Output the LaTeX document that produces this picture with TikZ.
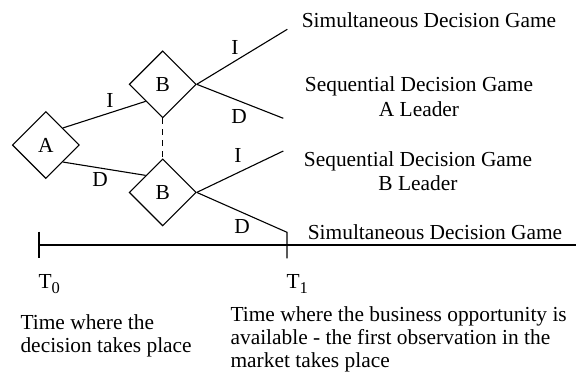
\documentclass[tikz,border=0pt]{standalone}
\usepackage{fontspec}
\setmainfont{Liberation Serif}
\usetikzlibrary{shapes.geometric, positioning}
\newcommand{\tsub}[1]{\raisebox{-5pt}{\fontsize{16.5}{16.5}\selectfont #1}}

\begin{document}
\begin{tikzpicture}[
    x=1pt, y=-1pt, line width=1.1pt, node distance=40pt,
    every node/.style={font=\fontsize{21.4}{23}\selectfont, inner sep=0pt},
    player/.style={diamond, draw, aspect=1, minimum size=67pt},
    game/.style={align=center, anchor=base, font=\fontsize{21.4}{24.7}\selectfont},
    note/.style={align=left, anchor=base west}
]
    \useasboundingbox (0,0) rectangle (576,376);

    % decision nodes
    \node[player] (A) at (45.8,145) {A};
    \node[player] (Bt) at (162.7,84.3) {B};
    \node[player] (Bb) [below=of Bt] {B};

    % free ends and time axis
    \coordinate (ti) at (287.3,29.3);
    \coordinate (td) at (283.3,118.3);
    \coordinate (bi) at (283.3,151);
    \coordinate (t1top) at (287,232.3);
    \coordinate (t1bot) at (287,258.3);
    \coordinate (t0top) at (39,231.7);
    \coordinate (t0bot) at (39,258.3);
    \coordinate (axstart) at (39,245);
    \coordinate (axend) at (576,245);

    \draw (A.north east) -- (Bt.south west);
    \draw (A.south east) -- (Bb.north west);
    \draw[dash pattern=on 6pt off 5pt] (Bt.south) -- (Bb.north);
    \draw (Bt.east) -- (ti);
    \draw (Bt.east) -- (td);
    \draw (Bb.east) -- (bi);
    \draw (Bb.east) -- (t1top) -- (t1bot);
    \draw (t0top) -- (t0bot);
    \draw (axstart) -- (axend);

    % choices
    \node (lAI) at (110,100) {I};
    \node (lAD) at (100,180) {D};
    \node (lBtI) at (235,47) {I};
    \node (lBtD) at (239,117) {D};
    \node (lBbI) at (238,155) {I};
    \node (lBbD) at (242,227) {D};

    % outcomes (base = last line)
    \node[game] (g1) at (429,27.3) {Simultaneous Decision Game};
    \node[game] (g2) at (419,116) {Sequential Decision Game\\A Leader};
    \node[game] (g3) at (418,190.7) {Sequential Decision Game\\B Leader};
    \node[game] (g4) at (435,239.3) {Simultaneous Decision Game};

    % times
    \node[anchor=base west] (T0) at (38,288) {T\tsub{0}};
    \node[anchor=base west] (T1) at (286,288) {T\tsub{1}};
    \node[note] (n0) at (20,352.5) {Time where the\\decision takes place};
    \node[note] (n1) at (230,367) {Time where the business opportunity is\\available - the first observation in the\\market takes place};
\end{tikzpicture}
\end{document}
